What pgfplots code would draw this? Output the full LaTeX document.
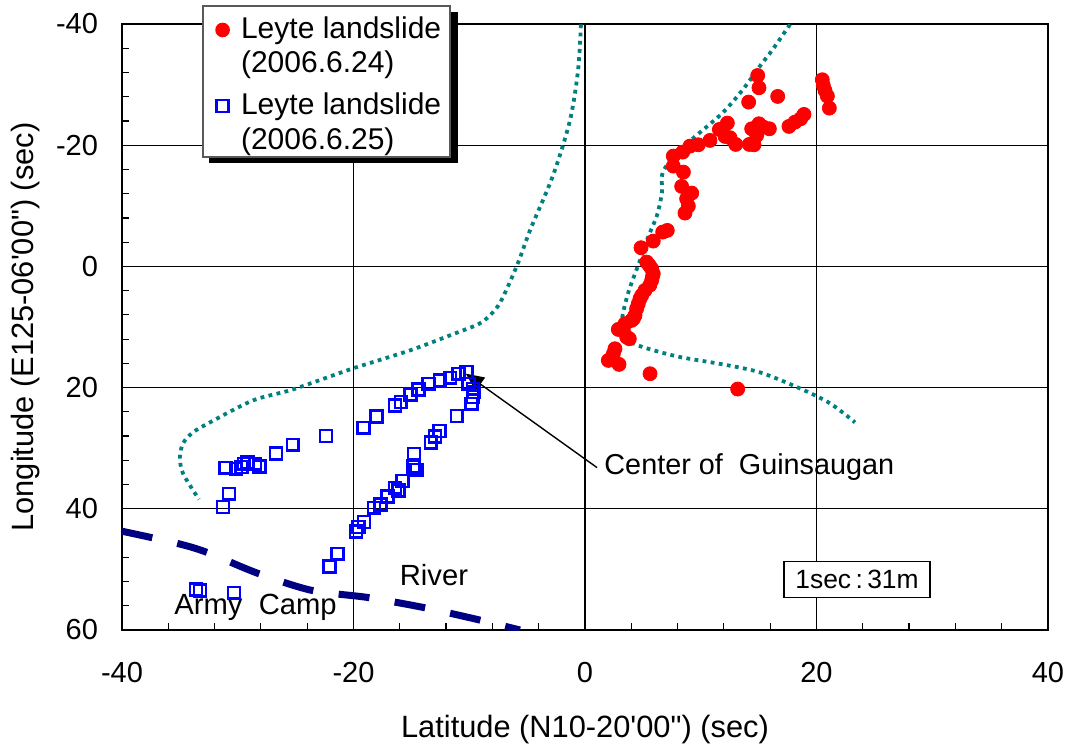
\documentclass[border=0pt]{standalone}
\usepackage{pgfplots}
\pgfplotsset{compat=1.18}
\usepackage{fontspec}
\setmainfont{Liberation Sans}
% no TeX mapping here, so the ' and " in the axis labels stay straight
\newfontfamily\plainsans{Liberation Sans}
\usetikzlibrary{arrows.meta}
\definecolor{dotteal}{RGB}{0,128,128}
\definecolor{rivernavy}{RGB}{0,0,128}

\pgfplotstableread{
x y
14.92 -31.50
15.03 -29.48
16.65 -28.05
14.14 -27.11
20.50 -30.80
20.59 -29.86
20.73 -29.04
20.94 -28.10
21.11 -26.12
18.92 -25.08
18.63 -24.36
18.14 -23.81
17.62 -23.10
12.30 -23.65
11.61 -22.60
12.10 -21.45
12.53 -21.23
13.02 -20.13
14.40 -22.71
15.03 -23.54
15.41 -22.99
15.93 -22.71
14.83 -21.61
14.60 -20.07
14.20 -20.13
10.80 -20.79
9.79 -20.07
9.07 -19.85
8.44 -18.86
7.63 -18.20
7.63 -16.55
8.50 -15.56
8.35 -13.20
9.22 -12.10
8.78 -11.16
8.93 -9.95
8.64 -8.80
7.11 -5.94
6.71 -5.66
5.90 -4.18
4.84 -3.08
5.33 -0.71
5.56 -0.16
5.76 0.39
5.90 1.21
5.82 1.76
5.76 2.31
5.60 3.10
5.18 3.96
4.90 4.79
4.75 5.34
4.60 6.20
4.46 6.99
4.32 8.09
4.18 8.64
4.03 8.91
3.46 9.46
2.88 10.40
3.31 10.56
3.60 11.66
3.83 11.94
2.59 13.59
2.45 14.41
2.02 15.51
2.94 16.17
5.62 17.71
13.19 20.24
}\redpts

\pgfplotstableread{
x y
-10.22 17.44
-10.94 17.71
-11.66 18.37
-12.52 18.81
-13.53 19.36
-14.40 20.30
-15.06 21.12
-15.92 22.39
-16.41 22.94
-18.00 24.75
-19.15 26.62
-22.37 28.00
-25.25 29.43
-26.69 30.86
-28.13 33.00
-28.51 32.56
-29.17 32.29
-29.46 32.56
-29.66 33.11
-30.15 33.39
-31.07 33.22
-30.75 37.51
-31.27 39.71
-10.08 19.36
-9.70 20.19
-9.64 20.74
-9.70 21.56
-9.79 22.66
-11.08 24.70
-12.58 27.17
-12.96 28.05
-13.33 29.04
-14.77 30.91
-14.54 33.55
-14.83 33.00
-15.78 35.42
-16.12 36.96
-16.41 36.52
-17.07 37.95
-17.65 39.27
-18.23 39.82
-19.09 42.19
-19.58 43.01
-19.78 43.73
-21.37 47.41
-22.08 49.50
-33.60 53.30
-33.26 53.46
-30.32 53.85
}\bluepts

\pgfplotstableread{
x y
17.71 -39.93
16.16 -35.64
15.29 -33.50
13.65 -29.21
11.84 -25.25
9.24 -20.96
7.26 -17.16
6.65 -15.02
6.65 -12.21
6.22 -8.42
5.44 -4.79
4.75 -0.99
3.80 3.96
3.28 7.76
3.11 10.40
3.37 11.55
4.58 13.04
7.95 14.85
11.92 16.17
15.12 17.49
18.57 20.13
21.17 22.60
23.33 25.74
}\rimright

\pgfplotstableread{
x y
-0.35 -39.93
-0.60 -32.34
-1.30 -24.09
-2.76 -15.02
-4.75 -5.94
-5.87 -0.17
-7.34 6.00
-8.50 8.60
-9.40 9.70
-11.23 11.06
-15.12 13.86
-20.04 16.83
-25.23 20.30
-28.68 22.11
-32.40 25.74
-33.87 27.39
-34.73 29.21
-34.99 31.52
-34.73 34.16
-33.35 38.45
}\rimleft

\pgfplotstableread{
x y
-40.00 43.70
-35.25 45.70
-32.66 47.19
-28.25 50.66
-23.59 53.47
-18.83 54.62
-14.00 56.27
-9.33 58.25
-5.62 60.00
}\river

\begin{document}
\begin{tikzpicture}
\useasboundingbox (-61pt,-58.5pt) rectangle (474pt,315pt);
\begin{axis}[
    scale only axis,
    width=463pt, height=303pt,
    xmin=-40, xmax=40,
    ymin=-40, ymax=60,
    y dir=reverse,
    xtick={-40,-20,0,20,40},
    ytick={-40,-20,0,20,40,60},
    minor x tick num=4,
    minor y tick num=4,
    xtick pos=bottom,
    ytick pos=left,
    tick align=inside,
    major tick length=4pt,
    minor tick length=3.5pt,
    tick style={black,line width=0.6pt},
    grid=major,
    major grid style={black,line width=0.6pt},
    axis line style={black,line width=1.1pt},
    /pgf/number format/assume math mode=true,
    tick label style={font=\fontsize{14.5}{16}\selectfont},
    label style={font=\plainsans\fontsize{15.4}{17}\selectfont},
    xticklabel style={yshift=-12.5pt},
    yticklabel style={xshift=-8.5pt},
    xlabel={Latitude (N10-20'00") (sec)},
    ylabel={Longitude (E125-06'00") (sec)},
    xlabel style={at={(axis description cs:0.5,0)},yshift=-39pt},
    ylabel style={yshift=1pt},
]
\addplot[only marks,mark=*,mark size=3.5pt,red,mark options={fill=red,draw=red}] table {\redpts};
\addplot[only marks,mark=square,mark size=2.95pt,blue,mark options={draw=blue,line width=1.3pt}] table {\bluepts};
\addplot[dotteal,line width=1.9pt,dash pattern=on 1.9pt off 2.2pt,smooth,forget plot] table {\rimright};
\addplot[dotteal,line width=1.9pt,dash pattern=on 1.9pt off 2.2pt,smooth,forget plot] table {\rimleft};
\addplot[rivernavy,line width=3.5pt,dash pattern=on 15.5pt off 12.8pt,smooth,forget plot] table {\river};

\node[font=\fontsize{14.6}{16}\selectfont] at (axis cs:-13.05,51.0) {River};
\node[font=\fontsize{14.6}{16}\selectfont,anchor=west] at (axis cs:-36.08,56.2) {Army\ \ Camp};
\node[font=\fontsize{14.4}{16}\selectfont,anchor=west] at (axis cs:1.07,33.1) {Center of\ \ Guinsaugan};
\draw[-{Triangle[length=9pt,width=8pt]},black,line width=0.7pt] (axis cs:1.04,33.2) -- (axis cs:-10.3,17.7);
\node[draw=black,fill=white,line width=0.8pt,inner sep=2pt,minimum width=73pt,minimum height=18pt,font=\fontsize{13.2}{14}\selectfont] at (axis cs:23.5,51.65) {1sec\,:\,31m};
\end{axis}
% legend box, positions relative to the axis corner
\fill[black] (43.5pt,233.5pt) rectangle (168pt,309pt);
\fill[white] (40.5pt,236.5pt) rectangle (164pt,312pt);
\draw[gray!70!black,line width=0.7pt] (40.5pt,236.5pt) rectangle (164pt,312pt);
\fill[red] (50.3pt,300pt) circle (3.67pt);
\draw[blue,line width=1.2pt] (47.3pt,259pt) rectangle (53.3pt,265pt);
\node[anchor=west,font=\fontsize{15}{17}\selectfont] at (56pt,299.5pt) {Leyte landslide};
\node[anchor=west,font=\fontsize{15}{17}\selectfont] at (56pt,282.5pt) {(2006.6.24)};
\node[anchor=west,font=\fontsize{15}{17}\selectfont] at (56pt,261.5pt) {Leyte landslide};
\node[anchor=west,font=\fontsize{15}{17}\selectfont] at (56pt,244pt) {(2006.6.25)};
\end{tikzpicture}
\end{document}
